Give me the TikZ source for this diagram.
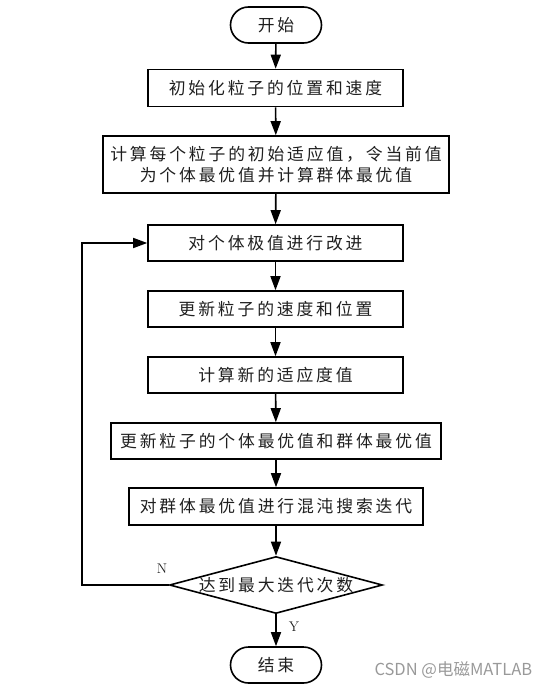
\documentclass[tikz,border=0pt]{standalone}
\usepackage{fontspec}
\newfontfamily\cjk[LetterSpace=17]{Noto Sans CJK SC}
\newfontfamily\cjkwm{Noto Sans CJK SC}
\usetikzlibrary{shapes.geometric,arrows.meta}
\begin{document}
\begin{tikzpicture}[x=1pt,y=-1pt,
  every node/.style={font=\cjk\fontsize{16.8pt}{21.5pt}\selectfont, text=black!88},
  proc/.style={draw, line width=1.6pt, rectangle, inner sep=0pt, minimum height=36pt, align=center},
  term/.style={draw, line width=1.6pt, rectangle, rounded corners=18pt, inner sep=0pt, minimum width=91pt, minimum height=36pt},
  dec/.style={draw, line width=1.6pt, diamond, aspect=3.75, inner sep=0pt, minimum width=213pt, minimum height=57pt},
  arr/.style={line width=1.6pt, -{Triangle[length=14pt,width=10pt]}},
  lab/.style={font=\rmfamily\fontsize{14pt}{16pt}\selectfont}]
\useasboundingbox (0,0) rectangle (551,688);
\node[term] (s) at (276,25) {开始};
\node[proc, minimum width=255pt, minimum height=37pt] (b1) at (275.5,88) {初始化粒子的位置和速度};
\node[proc, minimum width=346pt, minimum height=57pt] (b2) at (276,164.5) {计算每个粒子的初始适应值，令当前值\\为个体最优值并计算群体最优值};
\node[proc, minimum width=255pt] (b3) at (275.5,243) {对个体极值进行改进};
\node[proc, minimum width=255pt] (b4) at (275.5,309) {更新粒子的速度和位置};
\node[proc, minimum width=255pt] (b5) at (275.5,375) {计算新的适应度值};
\node[proc, minimum width=330pt] (b6) at (276,441) {更新粒子的个体最优值和群体最优值};
\node[proc, minimum width=294pt, minimum height=37pt] (b7) at (276,506.5) {对群体最优值进行混沌搜索迭代};
\node[dec] (d) at (276,585) {达到最大迭代次数};
\node[term] (e) at (276,665) {结束};
\coordinate (lp) at (82,585);
\draw[arr] (s) -- (b1);
\draw[arr] (b1) -- (b2);
\draw[arr] (b2) -- (b3);
\draw[arr] (b3) -- (b4);
\draw[arr] (b4) -- (b5);
\draw[arr] (b5) -- (b6);
\draw[arr] (b6) -- (b7);
\draw[arr] (b7) -- (d);
\draw[arr] (d) -- (e);
\draw[arr] (d.west) -- (lp) |- (b3.west);
\node[lab] (n) at (162,569) {N};
\node[lab] (y) at (294,627) {Y};
\node[font=\cjkwm\fontsize{16.5pt}{18pt}\selectfont, text=black!40, anchor=west] (wm) at (371,670) {CSDN @电磁MATLAB};
\end{tikzpicture}
\end{document}
